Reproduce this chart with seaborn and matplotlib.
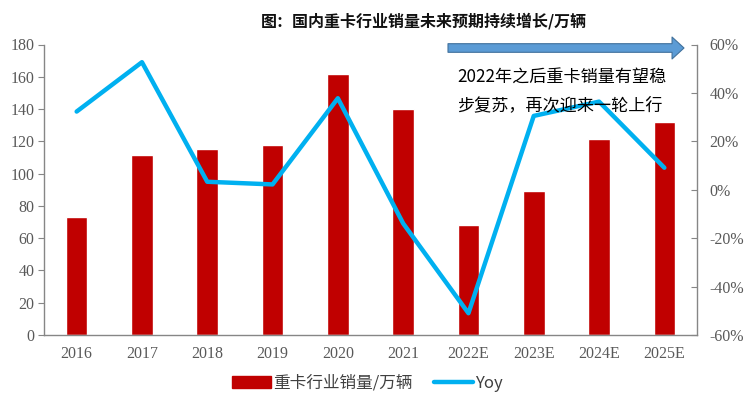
import numpy as np
import pandas as pd
import seaborn as sns
import matplotlib.pyplot as plt
from matplotlib.lines import Line2D
from matplotlib.patches import Patch

# --- data ---
years = ['2016', '2017', '2018', '2019', '2020', '2021', '2022E', '2023E', '2024E', '2025E']
sales = [73.4, 111.5, 115, 118, 162, 140, 68.3, 89.2, 121.5, 132]          # 万辆
yoy = [32.3, 52.7, 3.3, 2.2, 37.8, -13.9, -51.0, 30.5, 36.4, 9.1]           # %

df = pd.DataFrame({'year': years, 'sales': sales, 'yoy': yoy})

sns.set_style('white')
cjk = ['Noto Sans CJK SC', 'DejaVu Sans']
plt.rcParams['font.family'] = cjk

bar_red = '#C00000'
line_blue = '#00B0F0'
gray_txt = '#595959'
gray_axis = '#868686'

fig = plt.figure(figsize=(7.5, 3.97), dpi=100)
ax = fig.add_axes([44 / 750, 1 - 335 / 397, (697 - 44) / 750, (335 - 44.5) / 397])

sns.barplot(data=df, x='year', y='sales', color=bar_red, width=0.33,
            saturation=1, ax=ax)
ax.set_ylim(0, 180)
ax.set_yticks(range(0, 181, 20))
ax.set_xlim(-0.5, len(years) - 0.5)

ax2 = ax.twinx()
sns.lineplot(data=df, x='year', y='yoy', color=line_blue, linewidth=3.2,
             sort=False, ax=ax2)
ax2.set_ylim(-60, 60)
ax2.set_yticks(range(-60, 61, 20))
ax2.set_yticklabels([f'{v}%' for v in range(-60, 61, 20)])
ax2.set_xlim(-0.5, len(years) - 0.5)

# category boundaries carry the tick marks, labels sit at the centres
pos = np.arange(len(years))
ax.set_xticks(np.append(pos - 0.5, pos[-1] + 0.5))
ax.set_xticklabels([])
ax.set_xticks(pos, minor=True)
ax.set_xticklabels(years, minor=True)
ax.tick_params(axis='x', which='major', direction='out', length=4, color=gray_axis, width=1)
ax.tick_params(axis='x', which='minor', length=0, pad=8)

for a in (ax, ax2):
    a.set_xlabel('')
    a.set_ylabel('')
    for s in a.spines.values():
        s.set_visible(False)

ax.spines['left'].set_visible(True)
ax.spines['bottom'].set_visible(True)
ax2.spines['right'].set_visible(True)
for s in (ax.spines['left'], ax.spines['bottom'], ax2.spines['right']):
    s.set_color(gray_axis)
    s.set_linewidth(1)

ax.tick_params(axis='y', direction='out', length=4, color=gray_axis, pad=3)
ax2.tick_params(axis='y', direction='in', length=4, color=gray_axis, pad=9)

serif = ['Liberation Serif', 'DejaVu Serif']
for lab in ax.get_yticklabels() + ax.get_xticklabels(minor=True) + ax2.get_yticklabels():
    lab.set_family(serif)
    lab.set_fontsize(11.5)
    lab.set_color(gray_txt)

# title
fig.text(424 / 750, 1 - 21 / 397, '图：国内重卡行业销量未来预期持续增长/万辆',
         ha='center', va='center', fontsize=11.5, fontweight='bold', color='#111111')

# arrow over the forecast years
fig_y = 1 - 48 / 397
ax.annotate('', xy=(684 / 750, fig_y), xytext=(448 / 750, fig_y),
            xycoords='figure fraction', textcoords='figure fraction',
            arrowprops=dict(arrowstyle='simple,head_length=0.86,head_width=1.58,tail_width=0.62',
                            mutation_scale=10, fc='#5B9BD5', ec='#41719C', lw=0.8,
                            shrinkA=0, shrinkB=0))

fig.text(457 / 750, 1 - 78 / 397, '2022年之后重卡销量有望稳',
         ha='left', va='center', fontsize=12.3, color='black')
fig.text(457 / 750, 1 - 105 / 397, '步复苏，再次迎来一轮上行',
         ha='left', va='center', fontsize=12.3, color='black')

# legend
handles = [Patch(facecolor=bar_red, edgecolor=bar_red),
           Line2D([0], [0], color=line_blue, linewidth=3.2)]
fig.legend(handles, ['重卡行业销量/万辆', 'Yoy'], loc='center',
           bbox_to_anchor=(0.49, 1 - 383 / 397), ncol=2, frameon=False,
           fontsize=12, handlelength=2.3, handleheight=0.7, handletextpad=0.15,
           columnspacing=1.3, labelcolor='#404040')

fig.savefig('out.png', dpi=100)
